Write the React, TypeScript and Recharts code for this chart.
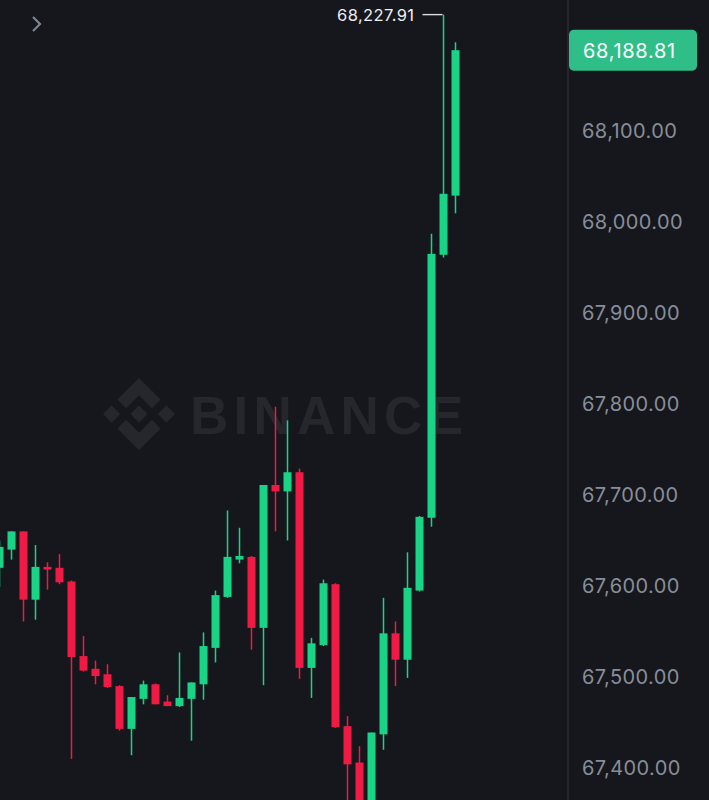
import React from 'react';
import { BarChart, Bar, XAxis, YAxis } from 'recharts';

// 1-minute candles, oldest first (first one is partly cut off at the left edge)
const opens = [
  67620, 67640, 67660, 67585, 67621, 67620, 67605, 67523, 67509, 67503,
  67490, 67443, 67476, 67492, 67473, 67468, 67476, 67492, 67532, 67588,
  67629, 67632, 67554, 67711, 67704, 67725, 67510, 67535, 67602, 67446,
  67406, 67341, 67437, 67548, 67519, 67595, 67675, 67964, 68029,
];
const highs = [
  67650, 67660, 67660, 67645, 67626, 67635, 67606, 67545, 67518, 67514,
  67491, 67478, 67496, 67493, 67480, 67527, 67494, 67549, 67595, 67683,
  67664, 67633, 67711, 67797, 67782, 67729, 67543, 67607, 67603, 67457,
  67424, 67439, 67587, 67561, 67637, 67677, 67987, 68227.91, 68197.5,
];
const lows = [
  67599, 67629, 67561, 67563, 67596, 67602, 67410, 67506, 67492, 67488,
  67441, 67414, 67470, 67470, 67468, 67467, 67430, 67475, 67516, 67587,
  67625, 67530, 67491, 67660, 67650, 67498, 67477, 67534, 67444, 67330,
  67320, 67325, 67420, 67490, 67499, 67594, 67665, 67961, 68009.6,
];
const closes = [
  67643, 67660, 67585, 67621, 67618, 67604, 67522, 67507, 67501, 67489,
  67443, 67478, 67492, 67470, 67468, 67477, 67494, 67534, 67590, 67632,
  67633, 67554, 67711, 67704, 67725, 67510, 67537, 67603, 67445, 67404,
  67340, 67439, 67548, 67519, 67598, 67676, 67965, 68031, 68188.81,
];

const priceTicks = [67400, 67500, 67600, 67700, 67800, 67900, 68000, 68100];
const lastClose = closes[closes.length - 1];
const maxHigh = Math.max(...highs);

const data = opens.map((o, i) => ({
  i,
  open: o,
  high: highs[i],
  low: lows[i],
  close: closes[i],
  range: [lows[i], highs[i]],
}));

const upColor = '#19d487';
const downColor = '#ef1b45';
const bg = '#16171c';
const textGray = '#878e99';
const font = 'Inter, "Noto Sans", sans-serif';

const fmt = (v: number) =>
  v.toLocaleString('en-US', { minimumFractionDigits: 2, maximumFractionDigits: 2 });

const Candle = (props: any) => {
  const { x, y, width, height, payload } = props;
  if (!payload) return null;
  const top = Math.min(y, y + height);
  const h = Math.abs(height);
  const { open, close, high, low } = payload;
  const k = h / (high - low);
  const py = (v: number) => top + (high - v) * k;
  const cx = x + width / 2;
  const color = close >= open ? upColor : downColor;
  const bodyTop = py(Math.max(open, close));
  const bodyBot = py(Math.min(open, close));

  return (
    <g>
      <line x1={cx} x2={cx} y1={top} y2={top + h} stroke={color} strokeWidth={1.5} />
      <rect x={x} y={bodyTop} width={width} height={Math.max(bodyBot - bodyTop, 1.5)} fill={color} />
      {high === maxHigh && (
        <g>
          <line x1={cx - 21} x2={cx - 1} y1={top} y2={top} stroke="#d9dbdf" strokeWidth={1.4} />
          <text
            x={cx - 29}
            y={top}
            textAnchor="end"
            dominantBaseline="central"
            fill="#eceef1"
            fontSize={16.5}
            letterSpacing={0.4}
            fontFamily={font}
          >
            {fmt(high)}
          </text>
        </g>
      )}
    </g>
  );
};

const PriceTick = (props: any) => {
  const { x, y, payload } = props;
  const v = payload.value;
  if (v === lastClose) {
    return (
      <g>
        <rect x={x - 13} y={y - 20.5} width={128} height={41} rx={5} fill="#2fbe87" />
        <text
          x={x + 1}
          y={y + 1}
          dominantBaseline="central"
          fill="#ffffff"
          fontSize={20}
          letterSpacing={0.7}
          fontFamily={font}
        >
          {fmt(v)}
        </text>
      </g>
    );
  }
  return (
    <text
      x={x}
      y={y}
      dominantBaseline="central"
      fill={textGray}
      fontSize={20}
      letterSpacing={0.4}
      fontFamily={font}
    >
      {fmt(v)}
    </text>
  );
};

const Watermark = () => (
  <svg width={709} height={800} style={{ position: 'absolute', left: 0, top: 0 }}>
    <g transform="translate(103,378) scale(0.72)" fill="#25272c">
      <polygon points="50,0 80,30 68,42 50,24 32,42 20,30" />
      <polygon points="50,100 80,70 68,58 50,76 32,58 20,70" />
      <polygon points="50,38 62,50 50,62 38,50" />
      <polygon points="0,50 12,38 24,50 12,62" />
      <polygon points="76,50 88,38 100,50 88,62" />
    </g>
    <text
      x={190}
      y={434}
      fill="#25272c"
      fontSize={53}
      fontWeight={700}
      fontFamily='"Liberation Sans", Arial, sans-serif'
      textLength={273}
      lengthAdjust="spacing"
    >
      BINANCE
    </text>
  </svg>
);

export default function App() {
  return (
    <div style={{ position: 'relative', width: 709, height: 800, background: bg, overflow: 'hidden' }}>
      <style>{`body{margin:0;background:${bg};}`}</style>
      <Watermark />
      <div style={{ position: 'absolute', left: 0, top: 0 }}>
        <BarChart width={709} height={800} data={data} margin={{ top: 0, right: 0, bottom: 0, left: 0 }}>
          <XAxis
            dataKey="i"
            type="number"
            domain={[0.0417, 47.375]}
            allowDataOverflow
            hide
          />
          <YAxis
            orientation="right"
            width={141}
            domain={[67364.84, 68243.96]}
            allowDataOverflow
            ticks={[...priceTicks, lastClose]}
            interval={0}
            tickLine={false}
            tickMargin={8}
            axisLine={{ stroke: '#2b2d33', strokeWidth: 1.5 }}
            tick={<PriceTick />}
          />
          <Bar dataKey="range" barSize={8} shape={<Candle />} isAnimationActive={false} />
        </BarChart>
      </div>
      <svg width={30} height={30} style={{ position: 'absolute', left: 24, top: 9 }}>
        <polyline points="9,8 16,15 9,22" fill="none" stroke="#7d8491" strokeWidth={2.2} />
      </svg>
    </div>
  );
}
